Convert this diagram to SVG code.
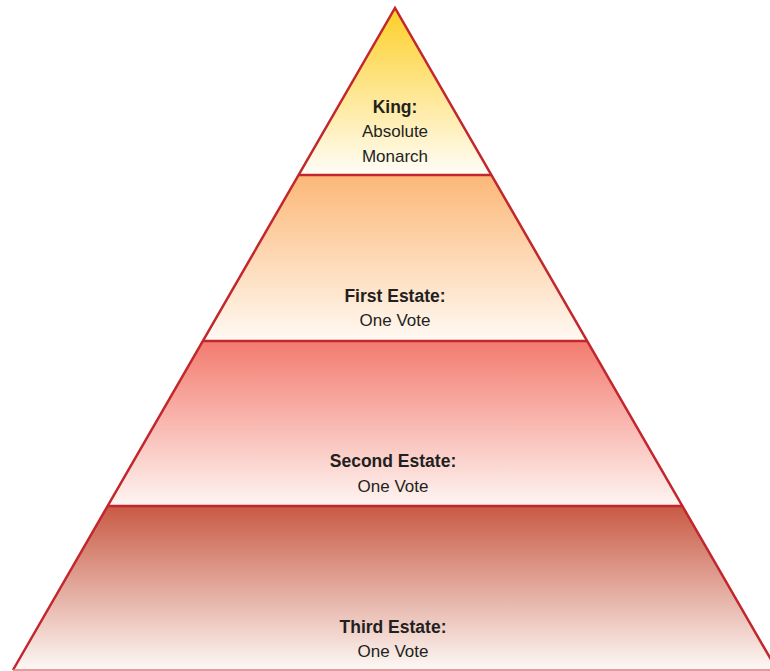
<svg xmlns="http://www.w3.org/2000/svg" width="770" height="671" viewBox="0 0 770 671">
  <defs>
    <linearGradient id="gKing" x1="0" y1="0" x2="0" y2="1">
      <stop offset="0" stop-color="#FDCF27"/>
      <stop offset="1" stop-color="#FFFDF8"/>
    </linearGradient>
    <linearGradient id="gFirst" x1="0" y1="0" x2="0" y2="1">
      <stop offset="0" stop-color="#FCB877"/>
      <stop offset="1" stop-color="#FFF9F3"/>
    </linearGradient>
    <linearGradient id="gSecond" x1="0" y1="0" x2="0" y2="1">
      <stop offset="0" stop-color="#F37B6F"/>
      <stop offset="1" stop-color="#FEF5F2"/>
    </linearGradient>
    <linearGradient id="gThird" x1="0" y1="0" x2="0" y2="1">
      <stop offset="0" stop-color="#C85A44"/>
      <stop offset="1" stop-color="#FDF8F5"/>
    </linearGradient>
  </defs>
  <style>
    text { font-family: "Liberation Sans", Arial, sans-serif; fill: #231F20; text-anchor: middle; }
    .b { font-weight: bold; font-size: 17.5px; }
    .n { font-size: 17px; }
    .edge { fill: none; stroke: #C1272D; stroke-width: 2.5; stroke-linejoin: miter; }
  </style>
  <rect width="770" height="671" fill="#FFFFFF"/>
  <g id="king">
    <polygon points="395,8 491.4,175 298.6,175" fill="url(#gKing)"/>
    <text class="b" x="395" y="113">King:</text>
    <text class="n" x="395" y="137">Absolute</text>
    <text class="n" x="395" y="162">Monarch</text>
  </g>
  <g id="first-estate">
    <polygon points="298.6,175 491.4,175 587.1,341 202.9,341" fill="url(#gFirst)"/>
    <text class="b" x="395" y="302">First Estate:</text>
    <text class="n" x="395" y="326">One Vote</text>
  </g>
  <g id="second-estate">
    <polygon points="202.9,341 587.1,341 682.4,506 107.6,506" fill="url(#gSecond)"/>
    <text class="b" x="393" y="467">Second Estate:</text>
    <text class="n" x="393" y="492">One Vote</text>
  </g>
  <g id="third-estate">
    <polygon points="107.6,506 682.4,506 777,670 13,670" fill="url(#gThird)"/>
    <text class="b" x="393" y="633">Third Estate:</text>
    <text class="n" x="393" y="657">One Vote</text>
  </g>
  <g id="connectors">
    <polyline class="edge" points="13,670 395,8 777,670"/>
    <line class="edge" x1="298.6" y1="175" x2="491.4" y2="175"/>
    <line class="edge" x1="202.9" y1="341" x2="587.1" y2="341"/>
    <line class="edge" x1="107.6" y1="506" x2="682.4" y2="506"/>
    <line x1="13" y1="670" x2="777" y2="670" stroke="#E07A7E" stroke-width="1.5"/>
  </g>
</svg>
